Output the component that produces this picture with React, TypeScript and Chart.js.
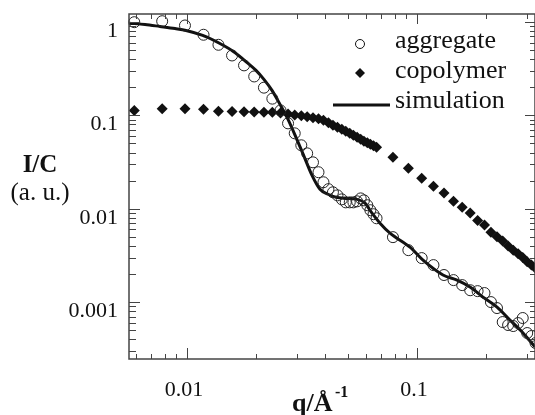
import React, { useEffect, useRef } from "react";
import { Chart, registerables } from "chart.js";

Chart.register(...registerables);

// q grid (Å^-1) shared by both measured series
const qGrid = [
  0.0059, 0.0078, 0.0098, 0.0118, 0.0137, 0.0157, 0.0177, 0.0196, 0.0216, 0.0235,
  0.0255, 0.0275, 0.0294, 0.0314, 0.0333, 0.0353, 0.0373, 0.0392, 0.0412, 0.0431,
  0.0451, 0.0471, 0.049, 0.051, 0.0529, 0.0549, 0.0569, 0.0588, 0.0608, 0.0627,
  0.0647, 0.0667,
  0.0786, 0.0917, 0.1048, 0.1179, 0.131, 0.1441, 0.1572, 0.1703, 0.1834, 0.1965,
  0.2096, 0.2227, 0.2358, 0.2489, 0.262, 0.2751, 0.2882, 0.3013, 0.3144, 0.3275,
];

const aggregateI = [
  0.995, 1.02, 0.918, 0.73, 0.57, 0.438, 0.343, 0.261, 0.198, 0.151,
  0.113, 0.0821, 0.0642, 0.0478, 0.0392, 0.0314, 0.0246, 0.0192, 0.0162, 0.015,
  0.0139, 0.0126, 0.0117, 0.0117, 0.0117, 0.012, 0.0129, 0.0123, 0.0109, 0.00964,
  0.00873, 0.0079,
  0.00496, 0.0036, 0.00296, 0.00249, 0.00195, 0.00172, 0.00152, 0.00134, 0.00131, 0.00125,
  0.001, 0.000863, 0.000611, 0.000568, 0.000554, 0.000596, 0.000675, 0.000466, 0.000433, 0.000364,
];

const copolymerI = [
  0.113, 0.118, 0.118, 0.116, 0.111, 0.11, 0.109, 0.1085, 0.108, 0.108,
  0.1063, 0.1037, 0.1012, 0.0988, 0.0964, 0.094, 0.0918, 0.0884, 0.0831, 0.0782,
  0.0745, 0.0709, 0.0674, 0.0642, 0.0611, 0.0582, 0.0554, 0.0527, 0.0508, 0.049,
  0.0472, 0.0455,
  0.0356, 0.0271, 0.0212, 0.0174, 0.0147, 0.012, 0.0104, 0.009, 0.0075, 0.0067,
  0.0056, 0.005, 0.0045, 0.004, 0.0036, 0.0033, 0.003, 0.0027, 0.0025, 0.0023,
];

const simQ = [
  0.0056, 0.00657, 0.00763, 0.00887, 0.0099, 0.0117, 0.0139, 0.0159, 0.0182, 0.01995,
  0.0216, 0.02342, 0.02537, 0.02749, 0.02978, 0.03227, 0.03496, 0.03787, 0.04103, 0.04445,
  0.04864, 0.05485, 0.05941, 0.06373, 0.06905, 0.0763, 0.0932, 0.1062, 0.1297, 0.1493,
  0.17, 0.1936, 0.2228, 0.2535, 0.289, 0.326,
];
const simI = [
  0.97, 0.94, 0.895, 0.85, 0.812, 0.718, 0.588, 0.483, 0.37, 0.303,
  0.2427, 0.1851, 0.1311, 0.0906, 0.0582, 0.0364, 0.0228, 0.01616, 0.01429, 0.01327,
  0.0129, 0.0126, 0.0115, 0.00895, 0.007, 0.00547, 0.00387, 0.00281, 0.00195, 0.00172,
  0.00145, 0.00113, 0.000885, 0.000643, 0.000466, 0.00033,
];

const xTicks = [0.01, 0.1];
const xTickLabels = ["0.01", "0.1"];
const yTicks = [0.001, 0.01, 0.1, 1];
const yTickLabels = ["0.001", "0.01", "0.1", "1"];

const legendLabels = ["aggregate", "copolymer", "simulation"];
const yTitleMain = "I/C";
const yTitleUnit = "(a. u.)";
const xTitleMain = "q/Å";
const xTitleSup = "-1";

const X_MIN = 0.005596;
const X_MAX = 0.3258;
const Y_MIN = 0.0002457;
const Y_MAX = 1.218;

const SERIF = "'Liberation Serif', 'Times New Roman', serif";
const AXIS = "#444";
const INK = "#111";

const framePlugin = {
  id: "frameTicks",
  afterDraw(chart: any) {
    const { ctx, chartArea } = chart;
    const { left, right, top, bottom } = chartArea;
    const xs = chart.scales.x;
    const ys = chart.scales.y;
    ctx.save();
    ctx.strokeStyle = AXIS;
    ctx.lineWidth = 1.5;
    ctx.strokeRect(left, top, right - left, bottom - top);
    ctx.lineWidth = 1;
    ctx.beginPath();
    for (let d = -3; d <= 0; d++) {
      for (let m = 1; m <= 9; m++) {
        const v = m * Math.pow(10, d);
        if (v >= X_MIN && v <= X_MAX) {
          const px = Math.round(xs.getPixelForValue(v)) + 0.5;
          const major = m === 1;
          ctx.moveTo(px, bottom);
          ctx.lineTo(px, bottom - (major ? 11 : 5));
          ctx.moveTo(px, top);
          ctx.lineTo(px, top + (major ? 10 : 5));
        }
      }
    }
    for (let d = -4; d <= 0; d++) {
      for (let m = 1; m <= 9; m++) {
        const v = m * Math.pow(10, d);
        if (v >= Y_MIN && v <= Y_MAX) {
          const py = Math.round(ys.getPixelForValue(v)) + 0.5;
          const major = m === 1;
          ctx.moveTo(left, py);
          ctx.lineTo(left + (major ? 11 : 7), py);
          ctx.moveTo(right, py);
          ctx.lineTo(right - (major ? 10 : 5), py);
        }
      }
    }
    ctx.stroke();

    // legend
    ctx.fillStyle = INK;
    ctx.strokeStyle = INK;
    ctx.font = `26px ${SERIF}`;
    ctx.textBaseline = "alphabetic";
    ctx.textAlign = "left";
    const tx = 395;
    const rows = [48, 78, 108];
    legendLabels.forEach((t, i) => ctx.fillText(t, tx, rows[i]));
    ctx.lineWidth = 1;
    ctx.beginPath();
    ctx.arc(360, 44, 4.5, 0, Math.PI * 2);
    ctx.stroke();
    ctx.beginPath();
    ctx.moveTo(360, 68);
    ctx.lineTo(365, 73);
    ctx.lineTo(360, 78);
    ctx.lineTo(355, 73);
    ctx.closePath();
    ctx.fill();
    ctx.lineWidth = 3;
    ctx.beginPath();
    ctx.moveTo(333, 105);
    ctx.lineTo(390, 105);
    ctx.stroke();

    // y title
    ctx.textAlign = "center";
    ctx.font = `bold 25px ${SERIF}`;
    ctx.fillText(yTitleMain, 40, 172);
    ctx.font = `25px ${SERIF}`;
    ctx.fillText(yTitleUnit, 40, 200);

    // x title
    ctx.textAlign = "left";
    ctx.font = `bold 26px ${SERIF}`;
    ctx.fillText(xTitleMain, 292, 411);
    ctx.font = `bold 16px ${SERIF}`;
    ctx.fillText(xTitleSup, 335, 397);
    ctx.restore();
  },
};

export default function App() {
  const ref = useRef<HTMLCanvasElement | null>(null);
  useEffect(() => {
    document.body.style.margin = "0";
    const canvas = ref.current;
    if (!canvas) return;
    const zeroPad = (s: any) => {
      s.paddingLeft = 0;
      s.paddingRight = 0;
      s.paddingTop = 0;
      s.paddingBottom = 0;
    };
    const chart = new Chart(canvas, {
      type: "scatter",
      data: {
        datasets: [
          {
            label: legendLabels[0],
            data: qGrid.map((q, i) => ({ x: q, y: aggregateI[i] })),
            showLine: false,
            pointStyle: "circle",
            pointRadius: 5.5,
            pointHoverRadius: 5.5,
            borderColor: "#222",
            backgroundColor: "rgba(0,0,0,0)",
            borderWidth: 1,
            clip: false,
          },
          {
            label: legendLabels[1],
            data: qGrid.map((q, i) => ({ x: q, y: copolymerI[i] })),
            showLine: false,
            pointStyle: "rectRot",
            pointRadius: 5.5,
            pointHoverRadius: 5.5,
            borderColor: INK,
            backgroundColor: INK,
            borderWidth: 0,
            clip: false,
          },
          {
            label: legendLabels[2],
            data: simQ.map((q, i) => ({ x: q, y: simI[i] })),
            showLine: true,
            pointRadius: 0,
            pointHoverRadius: 0,
            borderColor: INK,
            borderWidth: 3,
            cubicInterpolationMode: "monotone",
          },
        ],
      } as any,
      options: {
        responsive: false,
        animation: false,
        layout: { autoPadding: false, padding: { top: 14, left: 0, right: 0, bottom: 0 } },
        plugins: { legend: { display: false }, tooltip: { enabled: false } },
        scales: {
          x: {
            type: "logarithmic",
            min: X_MIN,
            max: X_MAX,
            grid: { display: false, drawTicks: false },
            border: { display: false },
            ticks: {
              autoSkip: false,
              maxRotation: 0,
              padding: 18,
              labelOffset: -3,
              color: INK,
              font: { family: SERIF, size: 22 },
              callback: (_v: any, i: number) => xTickLabels[i],
            },
            afterBuildTicks: (s: any) => {
              s.ticks = xTicks.map((v) => ({ value: v }));
            },
            afterFit: (s: any) => {
              s.height = 56;
              zeroPad(s);
            },
          },
          y: {
            type: "logarithmic",
            min: Y_MIN,
            max: Y_MAX,
            grid: { display: false, drawTicks: false },
            border: { display: false },
            ticks: {
              autoSkip: false,
              padding: 11,
              labelOffset: 9,
              color: INK,
              font: { family: SERIF, size: 22 },
              callback: (_v: any, i: number) => yTickLabels[i],
            },
            afterBuildTicks: (s: any) => {
              s.ticks = yTicks.map((v) => ({ value: v }));
            },
            afterFit: (s: any) => {
              s.width = 129;
              zeroPad(s);
            },
          },
        },
      } as any,
      plugins: [framePlugin],
    });
    return () => chart.destroy();
  }, []);
  return (
    <canvas ref={ref} width={535} height={415} style={{ display: "block" }} />
  );
}
